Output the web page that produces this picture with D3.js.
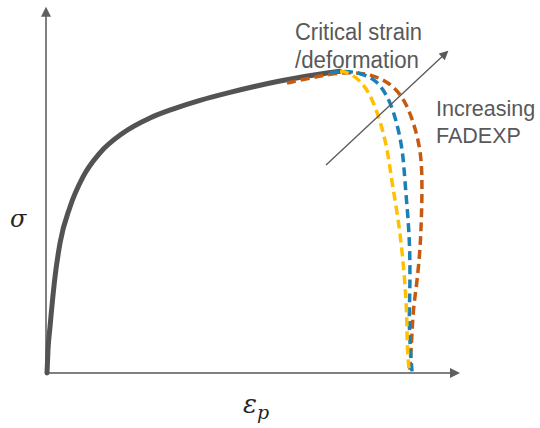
<!DOCTYPE html>
<html>
<head>
<meta charset="utf-8">
<script src="https://cdn.jsdelivr.net/npm/d3@7"></script>
<style>
  html, body { margin: 0; padding: 0; background: #fff; }
  svg { display: block; }
  .note { font-family: "Liberation Sans", Arial, sans-serif; fill: #595959; }
  .sym { font-family: "DejaVu Serif", "Liberation Serif", serif; font-style: italic; fill: #262626; }
</style>
</head>
<body>
<svg id="chart" width="540" height="428"></svg>
<script>
const d3 = globalThis.d3;

// hardening curve (strain, stress), arbitrary units
const hardeningX = [0.25, 0.5, 1, 2.25, 3.5, 6, 9.25, 13.5, 19.25, 26, 32.25, 38.5, 46, 58.5, 70.25, 73.5];
const hardeningY = [0, 7.2, 14.4, 30, 40.6, 51.9, 61.3, 68.8, 75, 79.7, 82.7, 85.2, 87.7, 91.25, 93.75, 94.3];

// softening branches for increasing FADEXP
const lowX = [73.5, 76, 79.25, 81.75, 84, 85.5, 86.5, 88, 89, 89.75, 90.25, 90.25, 90.75];
const lowY = [94.4, 93.8, 90.6, 85.3, 76.9, 68.8, 59.4, 48.8, 38.4, 28.1, 17.5, 8.8, 1];
const midX = [71, 74.75, 78.5, 82.75, 86, 88, 89.25, 89.75, 90.5, 91, 91, 90.75, 91, 91.5];
const midY = [93.8, 94.4, 93.8, 91.6, 85.3, 76.9, 68.8, 59.4, 48.8, 38.4, 25.9, 17.5, 8.8, 0.5];
const highX = [60.25, 66, 71, 76.75, 81.75, 86, 89.25, 91.75, 93.5, 94, 94, 93.75, 93.5, 92.75, 91.75, 91.5, 91, 91];
const highY = [90.6, 92.2, 93.4, 94.1, 93.1, 90.6, 86.3, 79.1, 70.6, 63.4, 54.1, 44.7, 38.4, 28.1, 19.7, 11.3, 3.1, 1];

const branchColors = ["#FFC000", "#1B80B6", "#C55A11"];

// axes extents and the trend arrow (same units)
const axisXEnd = 103;
const axisYEnd = 113.8;
const trendArrow = [[70, 65], [100.25, 100.3]];

const noteCritical = ["Critical strain", "/deformation"];
const noteIncreasing = ["Increasing", "FADEXP"];

const svg = d3.select("#chart");
const x = d3.scaleLinear().domain([0, 100]).range([46, 446]);
const y = d3.scaleLinear().domain([0, 100]).range([373, 53]);

const defs = svg.append("defs");
function marker(id, color, w, h) {
  defs.append("marker")
    .attr("id", id)
    .attr("viewBox", "0 0 10 10")
    .attr("refX", 8).attr("refY", 5)
    .attr("markerUnits", "userSpaceOnUse")
    .attr("markerWidth", w).attr("markerHeight", h)
    .attr("orient", "auto")
    .append("path")
    .attr("d", "M0,0 L10,5 L0,10 z")
    .attr("fill", color);
}
marker("axisHead", "#5f5f5f", 11, 10);
marker("trendHead", "#595959", 10, 9);

// axes
svg.append("line")
  .attr("x1", x(0)).attr("y1", y(0))
  .attr("x2", x(0)).attr("y2", y(axisYEnd))
  .attr("stroke", "#808080").attr("stroke-width", 2)
  .attr("marker-end", "url(#axisHead)");
svg.append("line")
  .attr("x1", x(0)).attr("y1", y(0))
  .attr("x2", x(axisXEnd)).attr("y2", y(0))
  .attr("stroke", "#808080").attr("stroke-width", 2)
  .attr("marker-end", "url(#axisHead)");

const hardLine = d3.line()
  .x(d => x(d[0]))
  .y(d => y(d[1]))
  .curve(d3.curveMonotoneX);

const branchLine = d3.line()
  .x(d => x(d[0]))
  .y(d => y(d[1]))
  .curve(d3.curveBasis);

svg.append("path")
  .attr("d", hardLine(d3.zip(hardeningX, hardeningY)))
  .attr("fill", "none")
  .attr("stroke", "#535353")
  .attr("stroke-width", 5)
  .attr("stroke-linecap", "round");

const branches = [d3.zip(lowX, lowY), d3.zip(midX, midY), d3.zip(highX, highY)];
svg.append("g").selectAll("path")
  .data(branches.slice().reverse())
  .join("path")
  .attr("d", branchLine)
  .attr("fill", "none")
  .attr("stroke", (d, i) => branchColors[branches.length - 1 - i])
  .attr("stroke-width", 3.5)
  .attr("stroke-dasharray", "9,5");

// trend arrow
svg.append("line")
  .attr("x1", x(trendArrow[0][0])).attr("y1", y(trendArrow[0][1]))
  .attr("x2", x(trendArrow[1][0])).attr("y2", y(trendArrow[1][1]))
  .attr("stroke", "#595959").attr("stroke-width", 1.3)
  .attr("marker-end", "url(#trendHead)");

// notes
svg.append("g").selectAll("text")
  .data(noteCritical)
  .join("text")
  .attr("class", "note")
  .attr("x", 295)
  .attr("y", (d, i) => 40 + i * 28)
  .attr("font-size", 23)
  .attr("textLength", (d, i) => [127, 124][i])
  .attr("lengthAdjust", "spacingAndGlyphs")
  .text(d => d);

svg.append("g").selectAll("text")
  .data(noteIncreasing)
  .join("text")
  .attr("class", "note")
  .attr("x", 436)
  .attr("y", (d, i) => 116 + i * 27)
  .attr("font-size", 21.5)
  .text(d => d);

// axis symbols
svg.append("text")
  .attr("class", "sym")
  .attr("x", 10).attr("y", 227)
  .attr("font-size", 24)
  .text("σ");

const eps = svg.append("text")
  .attr("class", "sym")
  .attr("x", 243).attr("y", 413)
  .attr("font-size", 26);
eps.append("tspan").text("ε");
eps.append("tspan").attr("font-size", 19).attr("dy", 6).text("p");
</script>
</body>
</html>
